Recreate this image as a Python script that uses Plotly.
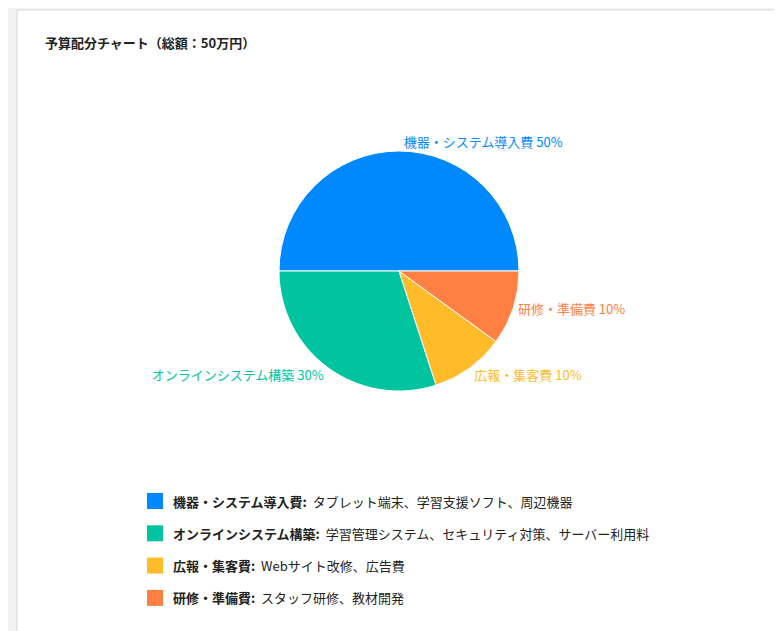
import plotly.graph_objects as go

# データ
categories = ["機器・システム導入費", "オンラインシステム構築", "広報・集客費", "研修・準備費"]
shares = [50, 30, 10, 10]
details = [
    "タブレット端末、学習支援ソフト、周辺機器",
    "学習管理システム、セキュリティ対策、サーバー利用料",
    "Webサイト改修、広告費",
    "スタッフ研修、教材開発",
]
colors = ["#0088FE", "#00C49F", "#FFBB28", "#FF8042"]

W, H = 782, 631
FONT = "Noto Sans CJK JP"


def px(x):
    return x / W


def py(y):
    return 1 - y / H


fig = go.Figure(go.Pie(
    labels=categories,
    values=shares,
    sort=False,
    direction="counterclockwise",
    rotation=-90,
    marker=dict(colors=colors, line=dict(color="white", width=1)),
    textposition="outside",
    texttemplate="%{label} %{percent:.0%}",
    textfont=dict(color=colors, size=13, family=FONT),
    hoverinfo="label+percent",
    showlegend=False,
    domain=dict(x=[px(271), px(511)], y=[py(383), py(143)]),
))

shapes = [
    # カードの枠
    dict(type="rect", xref="paper", yref="paper",
         x0=px(9), x1=px(777), y0=py(626), y1=py(2),
         line=dict(color="#d6d6d6", width=1), fillcolor="white", layer="below"),
]
annotations = [
    dict(text="<b>予算配分チャート（総額：50万円）</b>", xref="paper", yref="paper",
         x=px(35), y=py(34), xanchor="left", yanchor="middle", showarrow=False,
         font=dict(size=13, color="#222", family=FONT)),
]

# 凡例（説明付き）
for i, (name, desc, c) in enumerate(zip(categories, details, colors)):
    yc = 493 + i * 32.3
    shapes.append(dict(type="rect", xref="paper", yref="paper",
                       x0=px(139), x1=px(155), y0=py(yc + 8), y1=py(yc - 8),
                       fillcolor=c, line=dict(width=0)))
    annotations.append(dict(text=f"<b>{name}:</b>  {desc}", xref="paper", yref="paper",
                            x=px(163), y=py(yc), xanchor="left", yanchor="middle",
                            showarrow=False, font=dict(size=13, color="#222", family=FONT)))

fig.update_layout(
    width=W, height=H,
    margin=dict(l=0, r=0, t=0, b=0),
    paper_bgcolor="#f2f2f2",
    font=dict(family=FONT),
    shapes=shapes,
    annotations=annotations,
)

fig.write_html("out.html")
